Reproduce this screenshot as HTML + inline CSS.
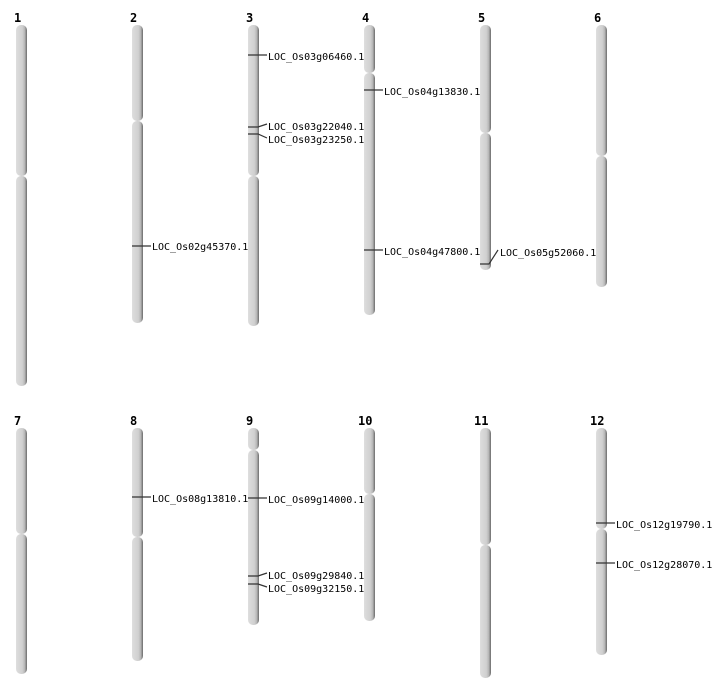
<!DOCTYPE html>
<html><head><meta charset="utf-8"><style>
html,body{margin:0;padding:0;background:#fff;}
svg{display:block;}
.n{font-family:"DejaVu Sans Mono","Liberation Mono",monospace;font-size:12px;font-weight:bold;fill:#000;}
.l{font-family:"DejaVu Sans Mono","Liberation Mono",monospace;font-size:10px;fill:#000;}
.m{stroke:#333;stroke-width:1.2;fill:none;}
</style></head><body>
<svg width="712" height="700" viewBox="0 0 712 700" xmlns="http://www.w3.org/2000/svg">
<defs>
<linearGradient id="g" x1="0" x2="1" y1="0" y2="0">
<stop offset="0" stop-color="#dedede"/>
<stop offset="0.6" stop-color="#cfcfcf"/>
<stop offset="0.8" stop-color="#b5b5b5"/>
<stop offset="1" stop-color="#6a6a6a"/>
</linearGradient>
</defs>
<g fill="url(#g)">
<!-- chr1 -->
<rect x="16" y="25" width="11" height="151" rx="5"/><rect x="16" y="176" width="11" height="210" rx="5"/>
<!-- chr2 -->
<rect x="132" y="25" width="11" height="96" rx="5"/><rect x="132" y="121" width="11" height="202" rx="5"/>
<!-- chr3 -->
<rect x="248" y="25" width="11" height="151" rx="5"/><rect x="248" y="176" width="11" height="150" rx="5"/>
<!-- chr4 -->
<rect x="364" y="25" width="11" height="48" rx="5"/><rect x="364" y="73" width="11" height="242" rx="5"/>
<!-- chr5 -->
<rect x="480" y="25" width="11" height="108" rx="5"/><rect x="480" y="133" width="11" height="137" rx="5"/>
<!-- chr6 -->
<rect x="596" y="25" width="11" height="131" rx="5"/><rect x="596" y="156" width="11" height="131" rx="5"/>
<!-- chr7 -->
<rect x="16" y="428" width="11" height="106" rx="5"/><rect x="16" y="534" width="11" height="140" rx="5"/>
<!-- chr8 -->
<rect x="132" y="428" width="11" height="109" rx="5"/><rect x="132" y="537" width="11" height="124" rx="5"/>
<!-- chr9 -->
<rect x="248" y="428" width="11" height="22" rx="5"/><rect x="248" y="450" width="11" height="175" rx="5"/>
<!-- chr10 -->
<rect x="364" y="428" width="11" height="66" rx="5"/><rect x="364" y="494" width="11" height="127" rx="5"/>
<!-- chr11 -->
<rect x="480" y="428" width="11" height="117" rx="5"/><rect x="480" y="545" width="11" height="133" rx="5"/>
<!-- chr12 -->
<rect x="596" y="428" width="11" height="101" rx="5"/><rect x="596" y="529" width="11" height="126" rx="5"/>
</g>
<g class="n">
<text x="14" y="22">1</text><text x="130" y="22">2</text><text x="246" y="22">3</text><text x="362" y="22">4</text><text x="478" y="22">5</text><text x="594" y="22">6</text>
<text x="14" y="425">7</text><text x="130" y="425">8</text><text x="246" y="425">9</text><text x="358" y="425">10</text><text x="474" y="425">11</text><text x="590" y="425">12</text>
</g>
<g class="m">
<path d="M132 246H151"/>
<path d="M248 55H267"/>
<path d="M248 127H258L267 124"/>
<path d="M248 134H258L267 138"/>
<path d="M364 90H383"/>
<path d="M364 250H383"/>
<path d="M480 264H489L498 250"/>
<path d="M132 497H151"/>
<path d="M248 498H267"/>
<path d="M248 576H258L267 573"/>
<path d="M248 584H258L267 587"/>
<path d="M596 523H615"/>
<path d="M596 563H615"/>
</g>
<g class="l">
<text x="152" y="250">LOC_Os02g45370.1</text>
<text x="268" y="60">LOC_Os03g06460.1</text>
<text x="268" y="130">LOC_Os03g22040.1</text>
<text x="268" y="143">LOC_Os03g23250.1</text>
<text x="384" y="95">LOC_Os04g13830.1</text>
<text x="384" y="255">LOC_Os04g47800.1</text>
<text x="500" y="256">LOC_Os05g52060.1</text>
<text x="152" y="502">LOC_Os08g13810.1</text>
<text x="268" y="503">LOC_Os09g14000.1</text>
<text x="268" y="579">LOC_Os09g29840.1</text>
<text x="268" y="592">LOC_Os09g32150.1</text>
<text x="616" y="528">LOC_Os12g19790.1</text>
<text x="616" y="568">LOC_Os12g28070.1</text>
</g>
</svg>
</body></html>
